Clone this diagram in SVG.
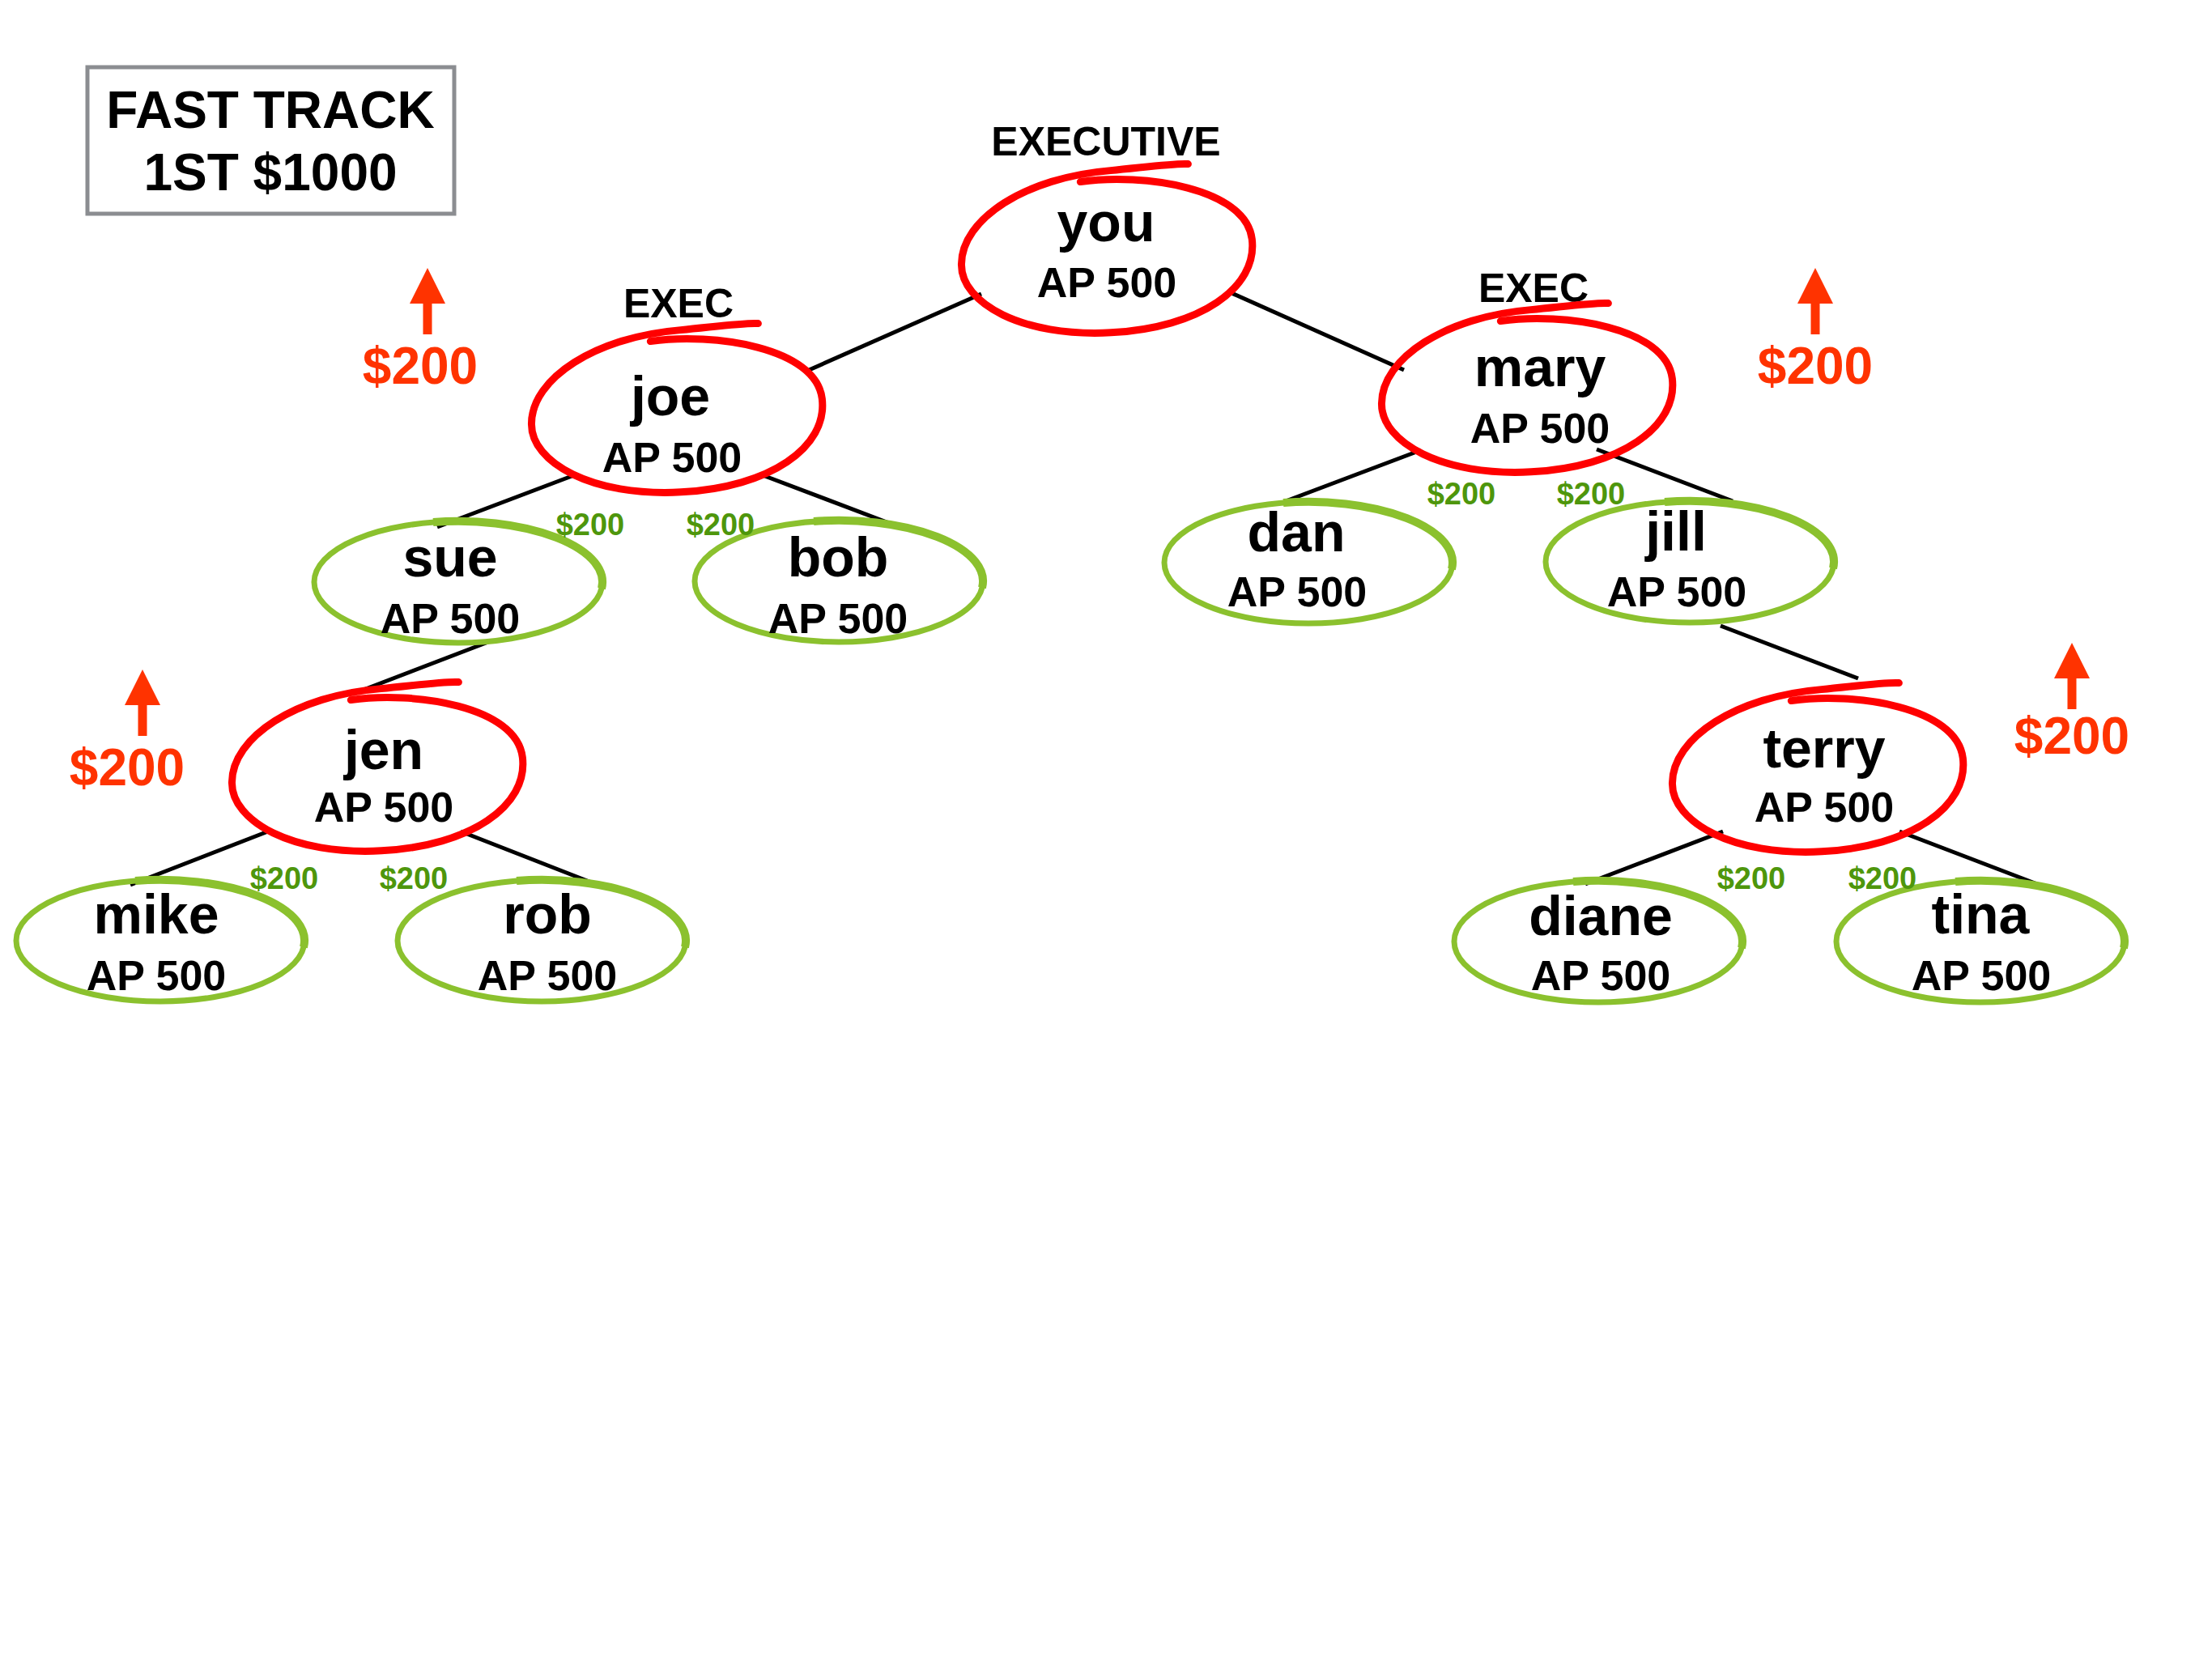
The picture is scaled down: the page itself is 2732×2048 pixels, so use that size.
<svg xmlns="http://www.w3.org/2000/svg" xmlns:xlink="http://www.w3.org/1999/xlink" width="2732" height="2048" viewBox="0 0 2732 2048">
<style>
text{font-family:"Liberation Sans",Arial,Helvetica,sans-serif;font-weight:bold;text-anchor:middle;fill:#000}
.name{font-size:68px}
.ap{font-size:52px}
.title{font-size:64px}
.lbl{font-size:50px}
.gm{font-size:38px;fill:#4e960c}
.rm{font-size:64px;fill:#ff3300}
.conn line{stroke:#000;stroke-width:5}
.redloop{fill:none;stroke:#ff0000;stroke-width:9;stroke-linecap:round;stroke-linejoin:round}
.gring{fill:none;stroke:#8bc12e;stroke-width:7}
.gthick{fill:none;stroke:#8bc12e;stroke-width:10;stroke-linecap:butt}
.arrow{fill:#ff3300}
</style>
<defs>
<path id="red" class="redloop" d="M -28,-90 C 50,-97 176,-72 180,-8 C 184,52 110,98 0,98 C -110,98 -183,52 -180,4 C -177,-52 -95,-99 10,-102 C 55,-104 90,-107 106,-105"/>
<g id="green">
<ellipse class="gring" cx="0" cy="0" rx="178" ry="75"/>
<path class="gthick" d="M -31,-74 A 178 75 0 0 1 177,8"/>
</g>
<g id="up">
<polygon class="arrow" points="0,0 22,44 -22,44"/>
<rect class="arrow" x="-5.5" y="42" width="11" height="40"/>
</g>
</defs>
<rect width="2732" height="2048" fill="#fff"/>

<g id="fast-track">
<rect x="108" y="83" width="453" height="181" fill="#fff" stroke="#8b8d91" stroke-width="5"/>
<text class="title" x="334" y="158">FAST TRACK</text>
<text class="title" x="334" y="235">1ST $1000</text>
</g>

<g id="connectors" class="conn">
<line x1="1212" y1="363" x2="997" y2="458"/>
<line x1="1521" y1="362" x2="1734" y2="457"/>
<line x1="709" y1="587" x2="540" y2="651"/>
<line x1="942" y1="587" x2="1111" y2="651"/>
<line x1="603" y1="793" x2="436" y2="857"/>
<line x1="331" y1="1027" x2="161" y2="1093"/>
<line x1="569" y1="1027" x2="738" y2="1093"/>
<line x1="1755" y1="556" x2="1588" y2="619"/>
<line x1="1972" y1="555" x2="2140" y2="619"/>
<line x1="2125" y1="773" x2="2295" y2="838"/>
<line x1="2128" y1="1027" x2="1958" y2="1092"/>
<line x1="2346" y1="1027" x2="2516" y2="1092"/>
</g>

<g id="node-you">
<text class="lbl" x="1366" y="192">EXECUTIVE</text>
<use xlink:href="#red" transform="translate(1367,313) rotate(-3)"/>
<text class="name" x="1366" y="298">you</text>
<text class="ap" x="1367" y="367">AP 500</text>
</g>

<g id="node-joe">
<text class="lbl" x="838" y="392">EXEC</text>
<use xlink:href="#red" transform="translate(836,510) rotate(-3)"/>
<text class="name" x="828" y="513">joe</text>
<text class="ap" x="830" y="583">AP 500</text>
</g>

<g id="node-mary">
<text class="lbl" x="1894" y="373">EXEC</text>
<use xlink:href="#red" transform="translate(1886,485) rotate(-3)"/>
<text class="name" x="1902" y="477">mary</text>
<text class="ap" x="1902" y="547">AP 500</text>
</g>

<g id="node-jen">
<use xlink:href="#red" transform="translate(466,953) rotate(-3)"/>
<text class="name" x="474" y="950">jen</text>
<text class="ap" x="474" y="1015">AP 500</text>
</g>

<g id="node-terry">
<use xlink:href="#red" transform="translate(2245,954) rotate(-3)"/>
<text class="name" x="2253" y="948">terry</text>
<text class="ap" x="2253" y="1015">AP 500</text>
</g>

<g id="node-sue">
<use xlink:href="#green" transform="translate(566,719)"/>
<text class="name" x="556" y="712">sue</text>
<text class="ap" x="556" y="782">AP 500</text>
</g>

<g id="node-bob">
<use xlink:href="#green" transform="translate(1036,718)"/>
<text class="name" x="1035" y="712">bob</text>
<text class="ap" x="1035" y="782">AP 500</text>
</g>

<g id="node-dan">
<use xlink:href="#green" transform="translate(1616,695)"/>
<text class="name" x="1601" y="681">dan</text>
<text class="ap" x="1602" y="749">AP 500</text>
</g>

<g id="node-jill">
<use xlink:href="#green" transform="translate(2087,694)"/>
<text class="name" x="2070" y="680">jill</text>
<text class="ap" x="2071" y="749">AP 500</text>
</g>

<g id="node-mike">
<use xlink:href="#green" transform="translate(198,1162)"/>
<text class="name" x="193" y="1153">mike</text>
<text class="ap" x="193" y="1223">AP 500</text>
</g>

<g id="node-rob">
<use xlink:href="#green" transform="translate(669,1162)"/>
<text class="name" x="676" y="1153">rob</text>
<text class="ap" x="676" y="1223">AP 500</text>
</g>

<g id="node-diane">
<use xlink:href="#green" transform="translate(1974,1163)"/>
<text class="name" x="1977" y="1155">diane</text>
<text class="ap" x="1977" y="1223">AP 500</text>
</g>

<g id="node-tina">
<use xlink:href="#green" transform="translate(2446,1163)"/>
<text class="name" x="2446" y="1153">tina</text>
<text class="ap" x="2447" y="1223">AP 500</text>
</g>

<g id="green-amounts">
<text class="gm" x="729" y="661">$200</text>
<text class="gm" x="890" y="661">$200</text>
<text class="gm" x="1805" y="623">$200</text>
<text class="gm" x="1965" y="623">$200</text>
<text class="gm" x="351" y="1098">$200</text>
<text class="gm" x="511" y="1098">$200</text>
<text class="gm" x="2163" y="1098">$200</text>
<text class="gm" x="2325" y="1098">$200</text>
</g>

<g id="bonus-joe">
<use xlink:href="#up" transform="translate(528,331)"/>
<text class="rm" x="519" y="474">$200</text>
</g>
<g id="bonus-mary">
<use xlink:href="#up" transform="translate(2242,331)"/>
<text class="rm" x="2242" y="474">$200</text>
</g>
<g id="bonus-jen">
<use xlink:href="#up" transform="translate(176,827)"/>
<text class="rm" x="157" y="970">$200</text>
</g>
<g id="bonus-terry">
<use xlink:href="#up" transform="translate(2559,794)"/>
<text class="rm" x="2559" y="931">$200</text>
</g>
</svg>
